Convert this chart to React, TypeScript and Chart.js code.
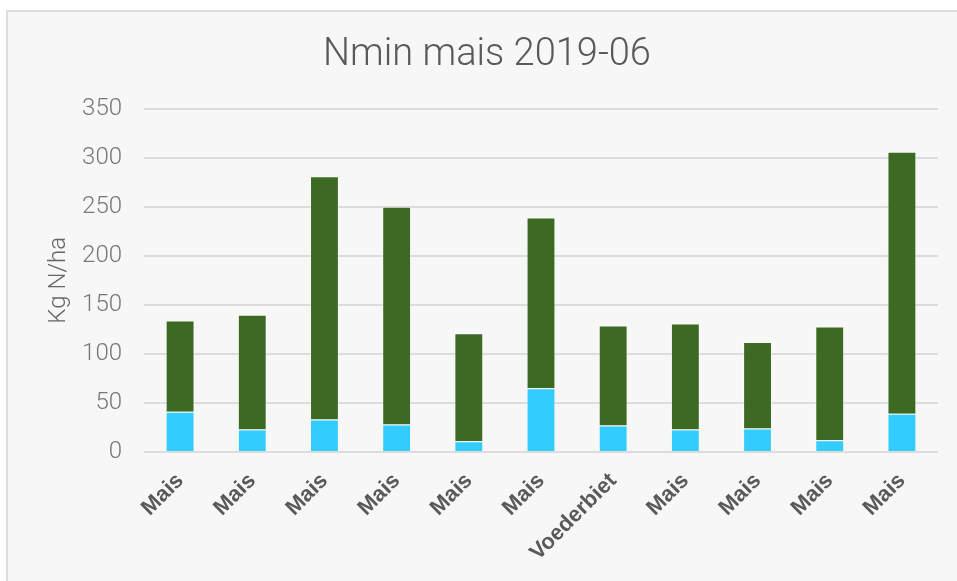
import React, { useEffect, useRef } from "react";
import { Chart, registerables } from "chart.js";

Chart.register(...registerables);

const categories = ["Mais", "Mais", "Mais", "Mais", "Mais", "Mais", "Voederbiet", "Mais", "Mais", "Mais", "Mais"];
const bottomValues = [41, 23, 33, 28, 11, 65, 27, 23, 24, 12, 39];
const topValues = [93, 117, 248, 222, 110, 174, 102, 108, 88, 116, 267];
const yTicks = [0, 50, 100, 150, 200, 250, 300, 350];
const titleText = "Nmin mais 2019-06";
const yTitle = "Kg N/ha";

export default function App() {
  const ref = useRef<HTMLCanvasElement | null>(null);

  useEffect(() => {
    document.body.style.margin = "0";
    const canvas = ref.current;
    if (!canvas) return;
    const chart = new Chart(canvas, {
      type: "bar",
      data: {
        labels: categories,
        datasets: [
          {
            label: "a",
            data: bottomValues,
            backgroundColor: "#33ccff",
            borderColor: "rgba(255,255,255,0.45)",
            borderWidth: 1,
            barPercentage: 0.4,
            categoryPercentage: 1,
          },
          {
            label: "b",
            data: topValues,
            backgroundColor: "#3c6a22",
            borderColor: "rgba(255,255,255,0.45)",
            borderWidth: 1,
            barPercentage: 0.4,
            categoryPercentage: 1,
          },
        ],
      },
      options: {
        animation: false,
        responsive: false,
        maintainAspectRatio: false,
        layout: { padding: { left: 28, right: 19, top: 0, bottom: 0 } },
        plugins: {
          legend: { display: false },
          tooltip: { enabled: false },
          title: {
            display: true,
            text: titleText,
            color: "#595959",
            font: { family: "Roboto", size: 38, weight: "300" as any },
            padding: { top: 21, bottom: 30 },
          },
        },
        scales: {
          x: {
            stacked: true,
            grid: { display: false, drawTicks: false },
            border: { display: false },
            ticks: {
              color: "#595959",
              font: { family: "Liberation Sans", size: 22, weight: "bold" },
              maxRotation: 45,
              minRotation: 45,
              autoSkip: false,
              padding: 16,
            },
            afterFit: (scale: any) => {
              scale.height = 129;
            },
          },
          y: {
            stacked: true,
            min: 0,
            max: 350,
            afterBuildTicks: (scale: any) => {
              scale.ticks = yTicks.map((v) => ({ value: v }));
            },
            grid: { color: "#dcdcdc", lineWidth: 2, drawTicks: false },
            border: { display: false },
            ticks: {
              color: "#777777",
              font: { family: "Roboto", size: 24, weight: "300" as any },
              padding: 22,
            },
            title: {
              display: true,
              text: yTitle,
              color: "#666666",
              font: { family: "Roboto", size: 24, weight: "300" as any },
              padding: { top: 9, bottom: 8 },
            },
            afterFit: (scale: any) => {
              scale.width = 108;
            },
          },
        },
      },
    });
    return () => chart.destroy();
  }, []);

  return (
    <div
      style={{
        position: "absolute",
        left: 6,
        top: 10,
        width: 951,
        height: 571,
        background: "#f7f7f7",
        borderLeft: "2px solid #dedede",
        borderTop: "2px solid #dedede",
        boxSizing: "border-box",
      }}
    >
      <canvas ref={ref} width={949} height={569} style={{ display: "block" }} />
    </div>
  );
}
